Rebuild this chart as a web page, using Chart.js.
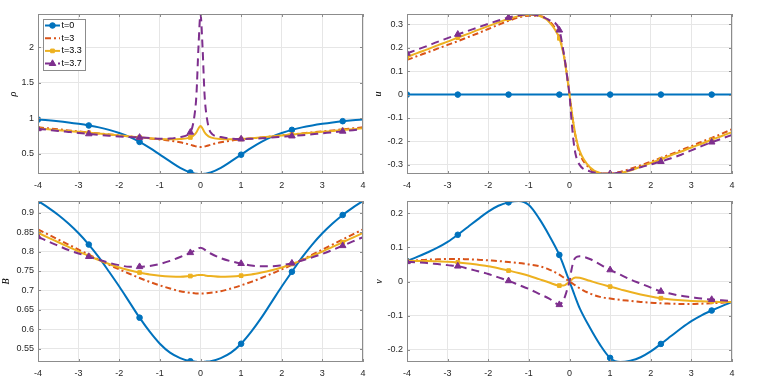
<!DOCTYPE html>
<html><head><meta charset="utf-8">
<script src="https://cdn.jsdelivr.net/npm/chart.js@4"></script>
<style>
html,body{margin:0;padding:0;background:#fff;width:764px;height:383px;overflow:hidden}
canvas{position:absolute}
</style></head><body>
<canvas id="c1" width="382" height="191" style="left:0;top:0"></canvas>
<canvas id="c2" width="394" height="191" style="left:370px;top:0"></canvas>
<canvas id="c3" width="382" height="195" style="left:0;top:188px"></canvas>
<canvas id="c4" width="394" height="195" style="left:370px;top:188px"></canvas>
<script>
const labels = ['t=0','t=3','t=3.3','t=3.7'];
const xs = [-4,-3.75,-3.5,-3.25,-3,-2.75,-2.5,-2.25,-2,-1.75,-1.5,-1.25,-1,-0.75,-0.5,-0.25,-0.15,-0.1,-0.05,0,0.05,0.1,0.15,0.25,0.5,0.75,1,1.25,1.5,1.75,2,2.25,2.5,2.75,3,3.25,3.5,3.75,4];
const markerX = [-4,-2.75,-1.5,-0.25,1,2.25,3.5];
const xTicks = [-4,-3,-2,-1,0,1,2,3,4];
const rhoTicks = [0.5,1,1.5,2];
const uTicks = [-0.3,-0.2,-0.1,0,0.1,0.2,0.3];
const BTicks = [0.55,0.6,0.65,0.7,0.75,0.8,0.85,0.9];
const vTicks = [-0.2,-0.1,0,0.1,0.2];

const rho0 = [0.98,0.97,0.957,0.94,0.92,0.897,0.87,0.835,0.79,0.735,0.665,0.58,0.485,0.39,0.3,0.235,0.222,0.217,0.214,0.213,
  0.214,0.217,0.222,0.235,0.3,0.39,0.485,0.58,0.665,0.735,0.79,0.835,0.87,0.897,0.92,0.94,0.957,0.97,0.98];
const rho3 = [0.87,0.856,0.842,0.827,0.813,0.799,0.785,0.771,0.757,0.743,0.728,0.714,0.70,0.683,0.66,0.625,0.608,0.6,0.594,0.592,
  0.594,0.6,0.608,0.625,0.66,0.683,0.70,0.714,0.728,0.743,0.757,0.771,0.785,0.799,0.813,0.827,0.842,0.856,0.87];
const rho33 = [0.855,0.843,0.831,0.819,0.807,0.795,0.783,0.77,0.757,0.743,0.729,0.716,0.706,0.702,0.705,0.728,0.765,0.80,0.855,0.89,
  0.855,0.80,0.765,0.728,0.705,0.702,0.706,0.716,0.729,0.743,0.757,0.77,0.783,0.795,0.807,0.819,0.831,0.843,0.857];
const rho37 = [0.85,0.835,0.82,0.806,0.792,0.778,0.765,0.753,0.743,0.735,0.728,0.719,0.71,0.712,0.735,0.80,1.03,1.33,2.0,2.467,
  2.0,1.33,1.03,0.80,0.733,0.71,0.705,0.71,0.717,0.726,0.737,0.748,0.76,0.773,0.787,0.80,0.815,0.83,0.845];

const u0 = [0,0,0,0,0,0,0,0,0,0,0,0,0,0,0,0,0,0,0,0,0,0,0,0,0,0,0,0,0,0,0,0,0,0,0,0,0,0,0];
const u3 = [0.148,0.164,0.18,0.196,0.212,0.228,0.245,0.262,0.28,0.298,0.315,0.329,0.337,0.336,0.315,0.245,0.18,0.13,0.068,0,
  -0.068,-0.13,-0.18,-0.25,-0.315,-0.335,-0.337,-0.33,-0.317,-0.302,-0.287,-0.27,-0.254,-0.237,-0.22,-0.202,-0.185,-0.167,-0.148];
const u33 = [0.16,0.177,0.193,0.21,0.226,0.243,0.259,0.276,0.292,0.308,0.324,0.335,0.341,0.336,0.31,0.24,0.175,0.125,0.065,0,
  -0.065,-0.125,-0.175,-0.24,-0.31,-0.335,-0.339,-0.335,-0.324,-0.308,-0.292,-0.276,-0.259,-0.243,-0.226,-0.21,-0.193,-0.177,-0.16];
const u37 = [0.176,0.192,0.208,0.225,0.241,0.257,0.272,0.287,0.302,0.316,0.329,0.338,0.343,0.336,0.318,0.275,0.185,0.13,0.065,0,
  -0.11,-0.2,-0.255,-0.3,-0.328,-0.336,-0.338,-0.333,-0.322,-0.31,-0.298,-0.286,-0.272,-0.257,-0.238,-0.22,-0.203,-0.188,-0.172];

const B0 = [0.93,0.913,0.894,0.872,0.847,0.818,0.785,0.748,0.71,0.67,0.63,0.594,0.563,0.54,0.526,0.518,0.517,0.5165,0.516,0.516,
  0.516,0.5165,0.517,0.518,0.526,0.54,0.563,0.594,0.63,0.67,0.71,0.748,0.785,0.818,0.847,0.872,0.894,0.913,0.93];
const B3 = [0.857,0.844,0.831,0.818,0.805,0.792,0.779,0.766,0.754,0.743,0.732,0.722,0.713,0.705,0.698,0.694,0.693,0.692,0.692,0.692,
  0.692,0.692,0.693,0.694,0.698,0.705,0.713,0.722,0.732,0.743,0.754,0.766,0.779,0.792,0.805,0.818,0.831,0.844,0.857];
const B33 = [0.848,0.836,0.824,0.812,0.8,0.789,0.778,0.768,0.759,0.752,0.746,0.741,0.738,0.736,0.735,0.737,0.738,0.739,0.74,0.74,
  0.74,0.739,0.738,0.737,0.735,0.736,0.738,0.741,0.746,0.752,0.759,0.768,0.778,0.789,0.8,0.812,0.824,0.836,0.848];
const B37 = [0.838,0.826,0.815,0.804,0.795,0.787,0.779,0.771,0.765,0.761,0.761,0.763,0.768,0.776,0.786,0.797,0.802,0.805,0.808,0.81,
  0.808,0.805,0.801,0.795,0.783,0.775,0.769,0.764,0.762,0.762,0.765,0.77,0.777,0.785,0.794,0.804,0.815,0.826,0.837];

const v0 = [0.06,0.072,0.085,0.099,0.116,0.137,0.16,0.183,0.205,0.222,0.232,0.236,0.224,0.185,0.135,0.078,0.048,0.032,0.016,0,
  -0.016,-0.032,-0.048,-0.078,-0.135,-0.185,-0.224,-0.236,-0.232,-0.222,-0.205,-0.183,-0.16,-0.137,-0.116,-0.099,-0.085,-0.072,-0.06];
const v3 = [0.06,0.062,0.064,0.065,0.066,0.066,0.065,0.064,0.062,0.06,0.057,0.054,0.05,0.045,0.035,0.02,0.012,0.008,0.004,0,
  -0.004,-0.008,-0.012,-0.02,-0.035,-0.045,-0.05,-0.054,-0.057,-0.06,-0.062,-0.064,-0.065,-0.066,-0.066,-0.065,-0.064,-0.062,-0.06];
const v33 = [0.06,0.06,0.06,0.059,0.058,0.056,0.053,0.049,0.045,0.039,0.032,0.025,0.017,0.007,-0.003,-0.012,-0.012,-0.01,-0.005,0,
  0.005,0.01,0.012,0.011,0.002,-0.007,-0.015,-0.023,-0.031,-0.038,-0.044,-0.049,-0.053,-0.055,-0.057,-0.058,-0.059,-0.06,-0.06];
const v37 = [0.058,0.056,0.054,0.051,0.048,0.045,0.038,0.03,0.022,0.012,0.002,-0.01,-0.022,-0.036,-0.05,-0.068,-0.055,-0.04,-0.02,0,
  0.035,0.06,0.07,0.074,0.066,0.05,0.034,0.02,0.006,-0.006,-0.018,-0.029,-0.036,-0.042,-0.046,-0.05,-0.053,-0.055,-0.057];

const colors = ['#0072BD','#D95319','#EDB120','#7E2F8E'];
const styles = [
  {dash:[], ps:'circle', r:2.8},
  {dash:[6,3,2,3], ps:null, r:0},
  {dash:[], ps:'rect', r:2.6},
  {dash:[8,5], ps:'triangle', r:3.8}
];
const AX = '#8c8c8c';
const TXT = '#262626';
Chart.defaults.font.family = '"Liberation Sans", Arial, sans-serif';

function ds(arr, i){
  const s = styles[i];
  return {
    label: labels[i],
    data: xs.map((x,k)=>({x:x, y:arr[k]})),
    borderColor: colors[i], backgroundColor: colors[i],
    pointBorderColor: colors[i], pointBackgroundColor: colors[i],
    borderWidth: 2, borderDash: s.dash, borderCapStyle:'butt',
    pointStyle: s.ps || 'circle', pointBorderWidth: 1,
    pointRadius: c => (s.r && c.parsed && markerX.includes(c.parsed.x)) ? s.r : 0,
    pointHoverRadius: 0,
    cubicInterpolationMode: 'monotone',
    order: 4 - i,
    legendStyle: s.ps, legendR: s.r
  };
}

const framePlugin = {
  id: 'frame',
  afterDatasetsDraw(chart){
    const ctx = chart.ctx, a = chart.chartArea;
    ctx.save();
    ctx.strokeStyle = AX; ctx.lineWidth = 1; ctx.setLineDash([]);
    ctx.strokeRect(a.left+0.5, a.top+0.5, a.right-a.left-1, a.bottom-a.top-1);
    const xs_ = chart.scales.x, ys_ = chart.scales.y;
    ctx.beginPath();
    xs_.ticks.forEach(t=>{
      const p = Math.round(xs_.getPixelForValue(t.value))+0.5;
      ctx.moveTo(p, a.bottom); ctx.lineTo(p, a.bottom-3);
      ctx.moveTo(p, a.top); ctx.lineTo(p, a.top+3);
    });
    ys_.ticks.forEach(t=>{
      const p = Math.round(ys_.getPixelForValue(t.value))+0.5;
      ctx.moveTo(a.left, p); ctx.lineTo(a.left+3, p);
      ctx.moveTo(a.right, p); ctx.lineTo(a.right-3, p);
    });
    ctx.stroke();
    ctx.restore();
  },
  afterDraw(chart, args, opts){
    if (!opts || !opts.legend) return;
    const ctx = chart.ctx, a = chart.chartArea;
    const x0 = a.left+5, y0 = a.top+5, w = 42, h = 51;
    ctx.save();
    ctx.fillStyle = '#fff'; ctx.fillRect(x0, y0, w, h);
    ctx.strokeStyle = AX; ctx.lineWidth = 1; ctx.strokeRect(x0+0.5, y0+0.5, w, h);
    chart.data.datasets.forEach((d,i)=>{
      const y = y0 + 6.5 + i*12.7;
      ctx.strokeStyle = d.borderColor; ctx.fillStyle = d.borderColor;
      ctx.lineWidth = 2; ctx.setLineDash(d.borderDash);
      ctx.beginPath(); ctx.moveTo(x0+2, y); ctx.lineTo(x0+17, y); ctx.stroke();
      ctx.setLineDash([]);
      if (d.legendStyle) {
        ctx.lineWidth = 1;
        Chart.helpers.drawPoint(ctx, {pointStyle:d.legendStyle, radius:d.legendR, borderWidth:1, rotation:0}, x0+9.5, y);
      }
      ctx.fillStyle = '#000'; ctx.font = '9px "Liberation Sans", Arial, sans-serif';
      ctx.textBaseline = 'middle'; ctx.textAlign = 'left';
      ctx.fillText(d.label, x0+18.5, y);
    });
    ctx.restore();
  }
};

function fmt(v){ return String(Math.round(v*100)/100); }

function make(id, series, yTicks, ymin, ymax, title, titlePad, yw, pad, xh, legend){
  new Chart(document.getElementById(id), {
    type: 'line',
    data: { datasets: series.map((arr,i)=>ds(arr,i)) },
    options: {
      responsive: false, animation: false, devicePixelRatio: 1,
      layout: { padding: pad },
      plugins: { legend:{display:false}, tooltip:{enabled:false}, frame:{legend:legend} },
      scales: {
        x: {
          type:'linear', min:-4, max:4,
          afterBuildTicks: s => { s.ticks = xTicks.map(v=>({value:v})); },
          afterFit: s => { s.height = xh; },
          grid: { color:'#e6e6e6', drawTicks:false, lineWidth:1 },
          border: { display:false },
          ticks: { padding:6, color:TXT, font:{size:9}, callback: v => fmt(v), maxRotation:0, autoSkip:false }
        },
        y: {
          type:'linear', min:ymin, max:ymax,
          afterBuildTicks: s => { s.ticks = yTicks.map(v=>({value:v})); },
          afterFit: s => { s.width = yw; },
          grid: { color:'#e6e6e6', drawTicks:false, lineWidth:1 },
          border: { display:false },
          ticks: { padding:4, color:TXT, font:{size:9}, callback: v => fmt(v), autoSkip:false },
          title: { display:true, text:title, color:'#000', padding:{top:titlePad, bottom:0},
                   font:{family:'"Liberation Serif", "DejaVu Serif", serif', style:'italic', size:10} }
        }
      }
    },
    plugins: [framePlugin]
  });
}

make('c1', [rho0,rho3,rho33,rho37], rhoTicks, 0.213, 2.467, 'ρ', 7, 38, {left:0,top:14,right:19,bottom:0}, 17, true);
make('c2', [u0,u3,u33,u37], uTicks, -0.339, 0.344, 'u', 2, 37, {left:0,top:14,right:32,bottom:0}, 17, false);
make('c3', [B0,B3,B33,B37], BTicks, 0.516, 0.93, 'B', 0, 38, {left:0,top:13,right:19,bottom:4}, 17, false);
make('c4', [v0,v3,v33,v37], vTicks, -0.236, 0.236, 'v', 3, 37, {left:0,top:13,right:32,bottom:4}, 17, false);
</script>
</body></html>
